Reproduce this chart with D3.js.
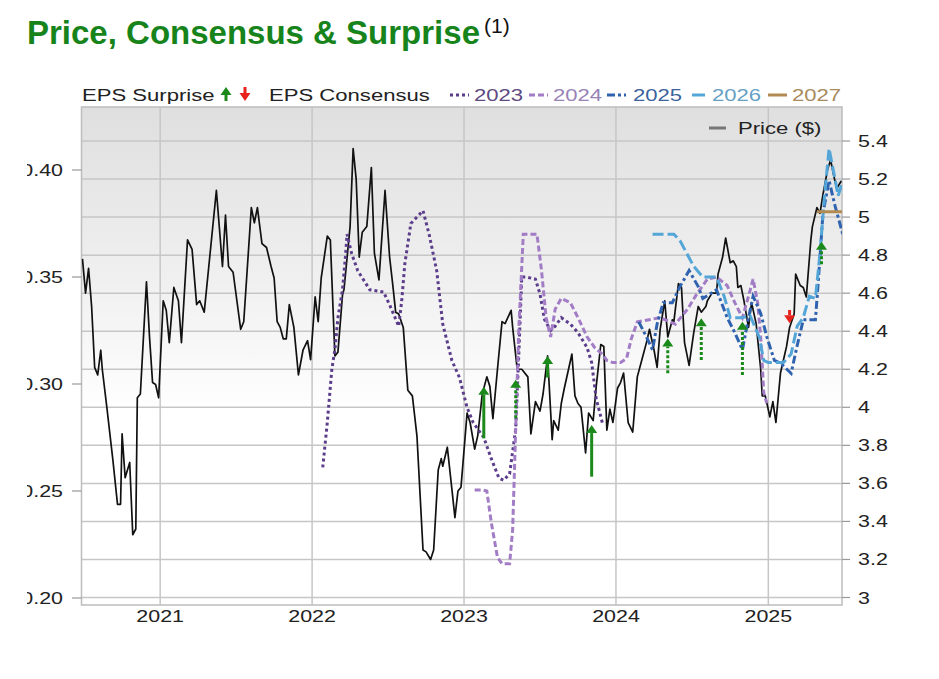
<!DOCTYPE html>
<html>
<head>
<meta charset="utf-8">
<script src="https://cdn.jsdelivr.net/npm/d3@7"></script>
<style>
body { margin: 0; background: #fff; }
text { font-family: "Liberation Sans", Arial, sans-serif; }
</style>
</head>
<body>
<div id="chart"></div>
<script>

// ---- data (dates as decimal years) ----
var priceT = [2020.49,2020.51,2020.53,2020.55,2020.57,2020.59,2020.61,2020.62,2020.65,2020.69,2020.72,2020.74,2020.75,2020.77,2020.80,2020.82,2020.84,2020.85,2020.87,2020.91,2020.93,2020.95,2020.97,2020.99,
  2021.02,2021.04,2021.06,2021.09,2021.12,2021.14,2021.18,2021.21,2021.24,2021.26,2021.29,2021.32,2021.37,2021.38,2021.41,2021.43,2021.45,2021.48,2021.53,2021.55,2021.60,2021.62,2021.64,2021.67,2021.70,2021.73,2021.75,2021.77,2021.79,2021.81,2021.83,2021.85,2021.88,2021.91,2021.94,2021.97,2021.99,
  2022.02,2022.04,2022.06,2022.10,2022.12,2022.15,2022.17,2022.20,2022.21,2022.25,2022.27,2022.29,2022.31,2022.33,2022.36,2022.39,2022.41,2022.44,2022.48,2022.51,2022.53,2022.55,2022.57,2022.60,2022.63,2022.66,2022.69,2022.73,2022.75,2022.78,2022.80,2022.83,2022.85,2022.86,2022.89,2022.92,2022.94,2022.96,2022.98,
  2023.02,2023.04,2023.07,2023.09,2023.12,2023.15,2023.17,2023.19,2023.22,2023.25,2023.27,2023.31,2023.32,2023.35,2023.38,2023.42,2023.44,2023.47,2023.50,2023.52,2023.55,2023.58,2023.59,2023.62,2023.64,2023.66,2023.71,2023.73,2023.75,2023.77,2023.80,2023.82,2023.85,2023.87,2023.90,2023.92,2023.94,2023.96,2023.98,
  2024.01,2024.03,2024.05,2024.08,2024.11,2024.14,2024.17,2024.20,2024.22,2024.25,2024.27,2024.29,2024.32,2024.34,2024.37,2024.38,2024.41,2024.43,2024.45,2024.48,2024.51,2024.54,2024.56,2024.59,2024.60,2024.63,2024.66,2024.67,2024.70,2024.72,2024.75,2024.77,2024.79,2024.80,2024.82,2024.84,2024.87,2024.89,2024.92,2024.95,2024.96,2024.98,
  2025.01,2025.03,2025.05,2025.08,2025.10,2025.12,2025.14,2025.17,2025.18,2025.21,2025.23,2025.25,2025.28,2025.29,2025.32,2025.34,2025.36,2025.39,2025.41,2025.43,2025.45,2025.48];
var priceV = [4.78,4.60,4.73,4.53,4.21,4.17,4.30,4.20,4.00,3.72,3.49,3.49,3.86,3.63,3.71,3.33,3.36,4.05,4.07,4.66,4.37,4.13,4.12,4.05,
  4.56,4.51,4.34,4.63,4.56,4.34,4.88,4.83,4.54,4.56,4.50,4.74,5.14,5.04,4.74,5.01,4.74,4.71,4.41,4.45,5.05,4.97,5.05,4.86,4.84,4.74,4.68,4.45,4.42,4.36,4.36,4.54,4.42,4.17,4.30,4.35,4.25,
  4.58,4.45,4.68,4.90,4.88,4.27,4.29,4.59,4.62,4.95,5.36,5.20,4.79,4.92,4.95,5.26,4.81,4.67,5.14,4.79,4.65,4.50,4.49,4.42,4.09,4.06,3.85,3.25,3.24,3.20,3.25,3.67,3.73,3.69,3.79,3.57,3.42,3.56,3.58,
  3.97,3.92,3.78,3.85,4.07,4.16,4.11,3.94,4.20,4.45,4.44,4.51,4.42,4.20,4.20,4.16,3.86,4.03,3.98,4.07,4.27,3.83,3.93,3.88,4.02,4.10,4.28,4.06,4.02,4.00,3.76,3.97,3.93,4.11,4.33,4.32,3.88,3.99,3.92,
  4.10,4.13,4.18,3.92,3.87,4.16,4.25,4.34,4.41,4.30,4.21,4.41,4.56,4.37,4.46,4.45,4.65,4.63,4.34,4.22,4.39,4.53,4.50,4.53,4.56,4.60,4.60,4.70,4.79,4.89,4.76,4.77,4.74,4.63,4.64,4.56,4.42,4.55,4.44,4.20,4.06,4.06,
  3.95,4.03,3.92,4.18,4.25,4.32,4.42,4.49,4.70,4.64,4.63,4.58,4.88,4.95,5.05,5.02,5.12,5.25,5.30,5.22,5.15,5.19];

var eps2023T = [2022.07,2022.10,2022.13,2022.15,2022.17,2022.20,2022.22,2022.23,2022.26,2022.30,2022.38,2022.47,2022.51,2022.57,2022.59,2022.61,2022.65,2022.69,2022.73,2022.77,2022.82,2022.86,2022.92,2022.97,2023.02,2023.06,2023.13,2023.18,2023.23,2023.26,2023.30,2023.34,2023.36,2023.38,2023.41,2023.47,2023.50,2023.53,2023.57,2023.60,2023.64,2023.70,2023.75,2023.81,2023.84,2023.87,2023.91];
var eps2023V = [0.261,0.282,0.307,0.316,0.331,0.344,0.360,0.370,0.361,0.353,0.344,0.343,0.337,0.327,0.339,0.356,0.375,0.378,0.381,0.370,0.353,0.328,0.311,0.303,0.289,0.282,0.275,0.265,0.256,0.255,0.258,0.279,0.313,0.350,0.350,0.349,0.342,0.330,0.325,0.327,0.331,0.328,0.324,0.317,0.310,0.293,0.282];

var eps2024T = [2023.07,2023.12,2023.15,2023.18,2023.22,2023.25,2023.30,2023.32,2023.34,2023.36,2023.39,2023.48,2023.51,2023.54,2023.57,2023.60,2023.64,2023.70,2023.75,2023.81,2023.86,2023.91,2023.94,2023.98,2024.03,2024.07,2024.10,2024.14,2024.29,2024.39,2024.47,2024.53,2024.60,2024.66,2024.73,2024.78,2024.83,2024.87,2024.90,2024.93,2024.95,2024.97,2024.99];
var eps2024V = [0.2505,0.2505,0.250,0.235,0.219,0.216,0.216,0.232,0.279,0.325,0.370,0.370,0.353,0.331,0.322,0.335,0.340,0.338,0.331,0.322,0.317,0.314,0.311,0.310,0.310,0.312,0.321,0.329,0.331,0.328,0.335,0.342,0.349,0.350,0.346,0.338,0.331,0.341,0.349,0.338,0.322,0.296,0.291];

var eps2025T = [2024.15,2024.20,2024.24,2024.27,2024.31,2024.37,2024.42,2024.48,2024.54,2024.57,2024.66,2024.73,2024.78,2024.83,2024.87,2024.90,2024.95,2024.99,2025.04,2025.08,2025.15,2025.19,2025.23,2025.31,2025.33,2025.36,2025.40,2025.44,2025.49];
var eps2025V = [0.329,0.322,0.316,0.328,0.338,0.338,0.3455,0.353,0.3455,0.340,0.344,0.331,0.324,0.316,0.331,0.341,0.333,0.322,0.311,0.3097,0.305,0.318,0.330,0.330,0.349,0.380,0.395,0.383,0.370];

var eps2026T = [2024.24,2024.38,2024.42,2024.51,2024.57,2024.66,2024.71,2024.75,2024.83,2024.88,2024.94,2024.97,2025.00,2025.10,2025.15,2025.19,2025.23,2025.27,2025.31,2025.34,2025.37,2025.40,2025.43,2025.46,2025.49];
var eps2026V = [0.370,0.370,0.367,0.355,0.350,0.350,0.341,0.331,0.331,0.332,0.322,0.311,0.310,0.310,0.314,0.327,0.331,0.341,0.340,0.361,0.388,0.410,0.399,0.388,0.395];

var eps2027T = [2025.32,2025.49];
var eps2027V = [0.3805,0.3805];

// EPS surprise arrows: consensus -> actual
var surpriseT    = [2023.13,2023.34,2023.55,2023.84,2024.34,2024.56,2024.83,2025.14,2025.35];
var surpriseFrom = [0.2746,0.284,0.303,0.2567,0.305,0.3112,0.3042,0.3346,0.356];
var surpriseTo   = [0.2987,0.302,0.3131,0.2808,0.3213,0.3307,0.3291,0.3284,0.3665];
var surpriseDash = [false,true,false,false,true,true,true,false,true];

var leftTicks = [0.20,0.25,0.30,0.35,0.40];
var rightTicks = [3,3.2,3.4,3.6,3.8,4,4.2,4.4,4.6,4.8,5,5.2,5.4];
var yearTicks = [2021,2022,2023,2024,2025];
var seriesNames = ["2023","2024","2025","2026","2027"];
var seriesColors = ["#5b3d8c","#a27dc6","#2f63b0","#55a6d8","#b38b52"];
var seriesText = ["#5d4a80","#9883b6","#3b629c","#669fc4","#a88a5c"];
var seriesDash = ["3,3","6,3","8,3,3,3","11,4",null];

// ---- helpers ----
function yd(t) {
  var y = Math.floor(t), s = new Date(y, 0, 1), e = new Date(y + 1, 0, 1);
  return new Date(+s + (t - y) * (e - s));
}
var SX = 1.3;   // the chart's text is drawn horizontally stretched
function stext(g, x, y, str, size, fill, anchor) {
  return g.append("text")
    .attr("transform", "translate(" + x + "," + y + ") scale(" + SX + ",1)")
    .attr("font-size", size)
    .attr("fill", fill || "#222")
    .attr("text-anchor", anchor || "start")
    .text(str);
}

// ---- layout ----
var W = 939, H = 679;
var plot = {left: 81.5, right: 842, top: 107, bottom: 605};

var svg = d3.select("#chart").append("svg")
  .attr("width", W).attr("height", H);

var defs = svg.append("defs");
var grad = defs.append("linearGradient").attr("id", "bg")
  .attr("x1", 0).attr("y1", 0).attr("x2", 0).attr("y2", 1);
grad.append("stop").attr("offset", "0").attr("stop-color", "#dfdfdf");
grad.append("stop").attr("offset", "0.35").attr("stop-color", "#f0f0f0");
grad.append("stop").attr("offset", "0.62").attr("stop-color", "#ffffff");
defs.append("clipPath").attr("id", "plotclip").append("rect")
  .attr("x", plot.left).attr("y", plot.top)
  .attr("width", plot.right - plot.left).attr("height", plot.bottom - plot.top);
defs.append("clipPath").attr("id", "leftclip").append("rect")
  .attr("x", 27).attr("y", 0).attr("width", 60).attr("height", H);

// scales
var x = d3.scaleTime()
  .domain([new Date(2020, 5, 26), new Date(2025, 5, 27)])
  .range([plot.left, plot.right]);
var yL = d3.scaleLinear().domain([0.20, 0.40]).range([598, 170]);
var yR = d3.scaleLinear().domain([3.0, 5.4]).range([597.5, 141]);

// title
svg.append("text").attr("x", 27).attr("y", 44)
  .attr("font-size", 33).attr("font-weight", "bold").attr("fill", "#16841b")
  .text("Price, Consensus & Surprise");
svg.append("text").attr("x", 484).attr("y", 33)
  .attr("font-size", 21).attr("fill", "#111").text("(1)");

// plot background + grid
svg.append("rect")
  .attr("x", plot.left).attr("y", plot.top)
  .attr("width", plot.right - plot.left).attr("height", plot.bottom - plot.top)
  .attr("fill", "url(#bg)");

var grid = svg.append("g").attr("stroke", "#c6c6c6").attr("stroke-width", 1.5);
grid.selectAll(".hg").data(rightTicks).enter().append("line")
  .attr("x1", plot.left).attr("x2", plot.right)
  .attr("y1", function(d) { return yR(d); }).attr("y2", function(d) { return yR(d); });
grid.selectAll(".vg").data(yearTicks).enter().append("line")
  .attr("y1", plot.top).attr("y2", plot.bottom)
  .attr("x1", function(d) { return x(new Date(d, 0, 1)); })
  .attr("x2", function(d) { return x(new Date(d, 0, 1)); });
svg.append("rect")
  .attr("x", plot.left).attr("y", plot.top)
  .attr("width", plot.right - plot.left).attr("height", plot.bottom - plot.top)
  .attr("fill", "none").attr("stroke", "#bdbdbd").attr("stroke-width", 1.5);

// left axis (EPS)
var la = svg.append("g").attr("clip-path", "url(#leftclip)");
leftTicks.forEach(function(v) {
  la.append("line").attr("x1", 72).attr("x2", plot.left)
    .attr("y1", yL(v)).attr("y2", yL(v)).attr("stroke", "#999").attr("stroke-width", 1.2);
  stext(la, 63, yL(v) + 6, d3.format(".2f")(v), 16.5, "#222", "end");
});

// right axis (price)
var ra = svg.append("g");
rightTicks.forEach(function(v) {
  ra.append("line").attr("x1", plot.right).attr("x2", plot.right + 8)
    .attr("y1", yR(v)).attr("y2", yR(v)).attr("stroke", "#999").attr("stroke-width", 1.2);
  stext(ra, 858, yR(v) + 6, d3.format("~g")(v), 16.5, "#222", "start");
});

// x axis labels
yearTicks.forEach(function(yr) {
  stext(svg, x(new Date(yr, 0, 1)), 622, String(yr), 16.5, "#222", "middle");
});

// series
var body = svg.append("g").attr("clip-path", "url(#plotclip)");

var priceLine = d3.line()
  .x(function(d) { return x(yd(d[0])); })
  .y(function(d) { return yR(d[1]); });
var epsLine = d3.line()
  .x(function(d) { return x(yd(d[0])); })
  .y(function(d) { return yL(d[1]); });

body.append("path")
  .datum(d3.zip(priceT, priceV))
  .attr("d", priceLine)
  .attr("fill", "none").attr("stroke", "#111").attr("stroke-width", 1.7)
  .attr("stroke-linejoin", "round");

var epsSeries = [
  d3.zip(eps2023T, eps2023V), d3.zip(eps2024T, eps2024V), d3.zip(eps2025T, eps2025V),
  d3.zip(eps2026T, eps2026V), d3.zip(eps2027T, eps2027V)
];
epsSeries.forEach(function(s, i) {
  body.append("path")
    .datum(s)
    .attr("d", epsLine)
    .attr("fill", "none")
    .attr("stroke", seriesColors[i])
    .attr("stroke-width", 3)
    .attr("stroke-dasharray", seriesDash[i]);
});

// surprise arrows
function arrow(g, cx, y0, y1, color, dashed) {
  var up = y1 < y0, hh = 8, hw = 5.5;
  var base = up ? y1 + hh : y1 - hh;
  g.append("line").attr("x1", cx).attr("x2", cx).attr("y1", y0).attr("y2", base)
    .attr("stroke", color).attr("stroke-width", 3)
    .attr("stroke-dasharray", dashed ? "3,2" : null);
  g.append("path")
    .attr("d", "M" + (cx - hw) + "," + base + "L" + cx + "," + y1 + "L" + (cx + hw) + "," + base + "Z")
    .attr("fill", color);
}
surpriseT.forEach(function(t, i) {
  var up = surpriseTo[i] > surpriseFrom[i];
  arrow(body, x(yd(t)), yL(surpriseFrom[i]), yL(surpriseTo[i]),
    up ? "#1b8a1b" : "#e8231d", surpriseDash[i]);
});

// legend row
var lg = svg.append("g");
stext(lg, 82, 101, "EPS Surprise", 17);
arrow(lg, 226, 101, 87, "#1b8a1b", false);
arrow(lg, 245, 87, 101, "#e8231d", false);
stext(lg, 269, 101, "EPS Consensus", 17);
var sampleX = [450, 529, 607, 692, 768];
var sampleW = [19, 19, 19, 13, 19];
var textX = [474, 553, 633, 712, 792];
seriesNames.forEach(function(n, i) {
  lg.append("line").attr("x1", sampleX[i]).attr("x2", sampleX[i] + sampleW[i])
    .attr("y1", 95).attr("y2", 95)
    .attr("stroke", seriesColors[i]).attr("stroke-width", 3)
    .attr("stroke-dasharray", i === 3 ? null : seriesDash[i]);
  stext(lg, textX[i], 101, n, 17, seriesText[i]);
});

// price legend inside plot
svg.append("line").attr("x1", 709).attr("x2", 726).attr("y1", 128).attr("y2", 128)
  .attr("stroke", "#777").attr("stroke-width", 3);
stext(svg, 738, 134, "Price ($)", 17, "#222");

</script>
</body>
</html>
